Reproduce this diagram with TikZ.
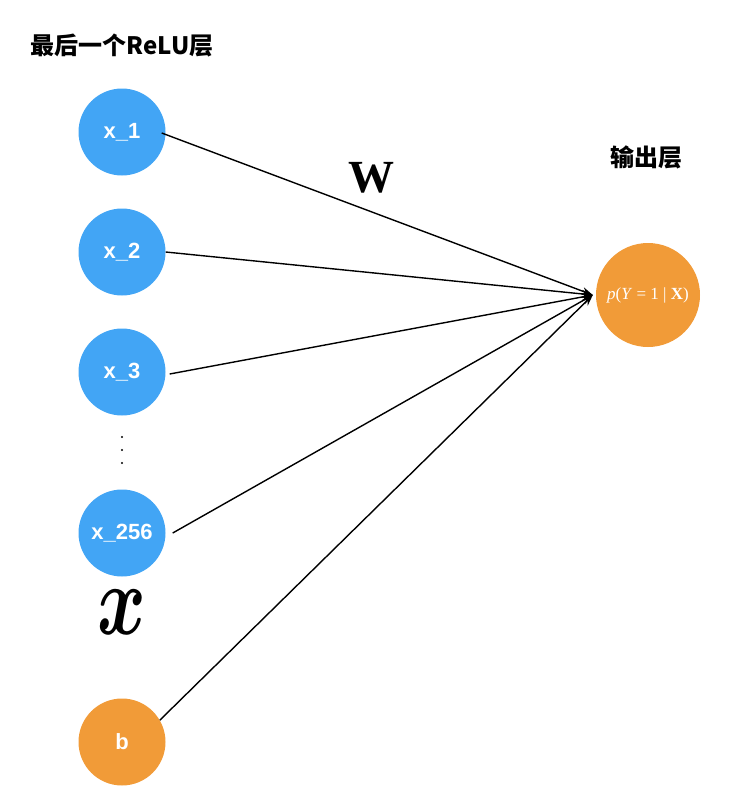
\documentclass[tikz,border=0pt]{standalone}
\usepackage{fontspec}
\usepackage{amsmath}
\usepackage{bm}
\setmainfont{Liberation Serif}
\newfontfamily\labelfont{Liberation Sans}
\newfontfamily\cjk{Noto Sans CJK SC}
\definecolor{relublue}{RGB}{66, 165, 245}
\definecolor{outorange}{RGB}{241, 155, 56}
\usetikzlibrary{
    arrows.meta,
    positioning,
    calc
}

\begin{document}
\begin{tikzpicture}[x=1pt, y=-1pt,
    neuron/.style={circle, fill=relublue, minimum size=87pt, inner sep=0pt,
        text=white, font=\labelfont\bfseries\fontsize{22}{22}\selectfont},
    biasnode/.style={neuron, fill=outorange},
    wire/.style={-{Stealth[length=11pt, width=8pt]}, line width=1.4pt}]
                    \useasboundingbox (0,0) rectangle (732,806);

                    % Titles
                    \node[font=\cjk\bfseries\fontsize{24}{24}\selectfont] (titlein) at (122,45) {最后一个ReLU层};
                    \node[font=\cjk\bfseries\fontsize{24}{24}\selectfont] (titleout) at (646,157) {输出层};

                    % Last ReLU layer
                    \node[neuron] (x1) at (122,132) {x\_1};
                    \node[neuron] (x2) at (122,252) {x\_2};
                    \node[neuron] (x3) at (122,372) {x\_3};
                    \node[neuron] (x256) at (122,533) {x\_256};
                    \node[biasnode] (bias) at (122,742) {b};
                    \foreach \y in {437,450,463}
                        \fill (122,\y) circle (1.1pt);

                    % Output layer
                    \node[neuron, fill=outorange, minimum size=104pt,
                        font=\fontsize{17}{17}\selectfont] (out) at (648,295)
                        {\textit{p}(\textit{Y} = 1 | \textbf{X})};

                    % Weights
                    \draw[wire] ($(x1.east)+(-4,1)$) -- ([xshift=-3pt]out.west);
                    \draw[wire] (x2.east) -- ([xshift=-3pt]out.west);
                    \draw[wire] ($(x3.east)+(4,2)$) -- ([xshift=-3pt]out.west);
                    \draw[wire] ($(x256.east)+(7,0)$) -- ([xshift=-3pt]out.west);
                    \draw[wire] (bias.30) -- ([xshift=-3pt]out.west);

                    % Labels
                    \node[font=\bfseries\fontsize{46}{46}\selectfont] (wlabel) at (371,178) {W};
                    \node[xscale=7.4, yscale=10] (xlabel) at (122,612) {$\bm{x}$};
                \end{tikzpicture}
\end{document}
